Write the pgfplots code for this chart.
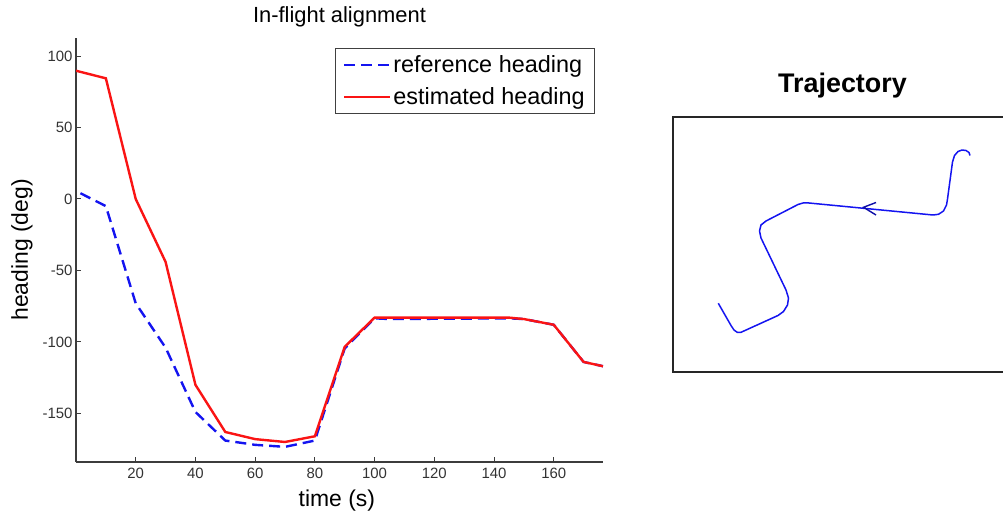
\documentclass[border=0pt]{standalone}
\usepackage{fontspec}
\setmainfont{Liberation Sans}
\usepackage{pgfplots}
\pgfplotsset{compat=1.18}
\definecolor{axgray}{RGB}{60,60,60}
\definecolor{mblue}{RGB}{20,20,240}
\definecolor{mred}{RGB}{250,20,20}
\begin{document}
\begin{tikzpicture}
\begin{axis}[
  at={(76bp,55bp)}, anchor=south west,
  scale only axis, width=527bp, height=424bp,
  xmin=0, xmax=176.5, ymin=-184, ymax=112.6,
  axis x line*=bottom, axis y line*=left,
  axis line style={draw=axgray, line width=1.1bp, -},
  tick align=inside, major tick length=5bp,
  tick style={draw=axgray, line width=1bp},
  xtick={20,40,...,160}, ytick={-150,-100,...,100},
  /pgf/number format/assume math mode=true,
  ticklabel style={font=\fontsize{15}{17}\selectfont, text=black!80},
  xticklabel style={yshift=-3bp},
  title={In-flight alignment},
  title style={at={(axis description cs:0.5,1.035)}, anchor=center, font=\fontsize{22}{26}\selectfont},
  xlabel={time (s)},
  xlabel style={at={(axis description cs:0.495,-0.09)}, anchor=center, font=\fontsize{23}{27}\selectfont},
  ylabel={heading (deg)},
  ylabel style={at={(axis description cs:-0.1025,0.5)}, anchor=center, font=\fontsize{23}{27}\selectfont},
  legend style={at={(axis description cs:0.985,0.976)}, anchor=north east,
    draw=black!75, line width=0.8bp, font=\fontsize{23.5}{28}\selectfont,
    inner xsep=8bp, inner ysep=5bp, row sep=10bp, text=black},
  legend cell align=left,
  legend image code/.code={\draw[#1] (0bp,0bp) -- (46bp,0bp);},
]
\addplot[mblue, line width=2.4bp, dash pattern=on 11bp off 6bp] coordinates {
(1.5,4) (10,-5) (20,-73) (30,-104) (40,-149) (50,-169) (60,-172) (70,-173.4) (80,-169)
(90,-104.5) (100,-83.5) (105,-84) (145,-83.5) (150,-84) (160,-88) (170,-114) (176.5,-117)
};
\addlegendentry{reference heading}
\addplot[mred, line width=2.4bp] coordinates {
(0,89.7) (10,84.4) (20,0) (30,-44) (40,-130) (50,-163) (60,-168) (70,-170) (80,-166)
(90,-103.4) (100,-83) (145,-83) (150,-84) (160,-88) (170,-114) (176.5,-117)
};
\addlegendentry{estimated heading}
\end{axis}
\begin{axis}[
  at={(673bp,145bp)}, anchor=south west,
  scale only axis, width=339bp, height=255bp,
  xmin=673, xmax=1012, ymin=117, ymax=372, y dir=reverse,
  ticks=none,
  axis line style={draw=black!85, line width=1.3bp},
  title={\bfseries Trajectory},
  title style={at={(axis description cs:0.5,1)}, anchor=south, yshift=9bp, font=\fontsize{27}{31}\selectfont},
]
\addplot[mblue, line width=1.5bp, line join=round] coordinates {
(718.3,303.3) (731,325.5) (734,330) (737.5,332.5) (741,332.3) (778,315.5) (783.5,311.5)
(787.5,305) (788.5,298) (786,290) (761,238) (759.5,231) (761,225) (766,221) (798,204.5)
(803,203) (809,203) (933,215) (938.5,214.3) (943.5,211) (946.5,205) (947.5,199)
(952.5,162) (954.5,155.5) (958,151.5) (962,150) (966,150.5) (969,152.5) (970,155.5)
};
\addplot[mblue!70!black, line width=1.4bp] coordinates {(876,202.5) (863.5,207.3) (876,215)};
\end{axis}
\pgfresetboundingbox
\useasboundingbox (0bp,0bp) rectangle (1003bp,517bp);
\end{tikzpicture}
\end{document}
